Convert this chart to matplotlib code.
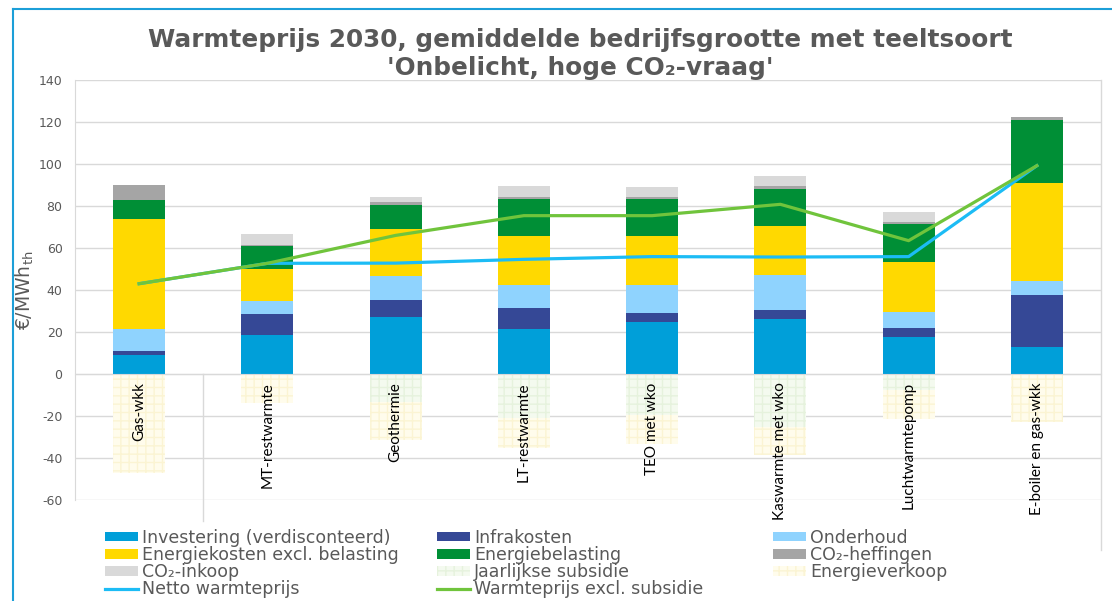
import numpy as np
import matplotlib
matplotlib.use('Agg')
import matplotlib.pyplot as plt
from matplotlib.patches import Patch
from matplotlib.lines import Line2D

plt.rcParams['axes.unicode_minus'] = False

categories = ['Gas-wkk', 'MT-restwarmte', 'Geothermie', 'LT-restwarmte',
              'TEO met wko', 'Kaswarmte met wko', 'Luchtwarmtepomp',
              'E-boiler en gas-wkk']
investering = [9.0, 18.7, 27.1, 21.4, 25.0, 26.3, 17.6, 13.0]
infrakosten = [2.0, 9.7, 8.1, 10.2, 3.9, 4.2, 4.1, 24.8]
onderhoud = [10.3, 6.2, 11.5, 10.8, 13.5, 16.5, 7.8, 6.6]
energiekosten = [52.7, 15.6, 22.2, 23.5, 23.5, 23.5, 24.0, 46.7]
energiebelasting = [8.7, 10.8, 11.7, 17.4, 17.4, 17.8, 17.9, 29.7]
co2_heffingen = [7.3, 0.5, 1.3, 1.1, 1.1, 1.4, 1.0, 1.4]
co2_inkoop = [0.0, 5.2, 2.4, 5.3, 4.6, 4.7, 4.7, 0.0]
subsidie = [0.0, 0.0, -13.2, -20.8, -19.5, -25.1, -7.6, 0.0]
energieverkoop = [-47.0, -14.0, -18.3, -14.3, -13.6, -13.6, -13.6, -23.0]
netto = [43.0, 52.7, 52.8, 54.6, 55.9, 55.7, 55.9, 99.2]
excl_subsidie = [43.0, 52.7, 66.0, 75.4, 75.4, 80.8, 63.5, 99.2]

grey = '#595959'
fig = plt.figure(figsize=(11.12, 6.01), dpi=100)
ax = fig.add_axes([75/1112, 1-500/601, 1026/1112, 420/601])

x = np.arange(len(categories))
w = 0.405
pos_series = [
    (investering, '#009FD9', 'Investering (verdisconteerd)'),
    (infrakosten, '#354896', 'Infrakosten'),
    (onderhoud, '#8FD3FE', 'Onderhoud'),
    (energiekosten, '#FFD900', 'Energiekosten excl. belasting'),
    (energiebelasting, '#008F36', 'Energiebelasting'),
    (co2_heffingen, '#A5A5A5', 'CO\u2082-heffingen'),
    (co2_inkoop, '#D9D9D9', 'CO\u2082-inkoop'),
]
bottom = np.zeros(len(categories))
handles = {}
for vals, col, lab in pos_series:
    ax.bar(x, vals, w, bottom=bottom, color=col, zorder=2)
    bottom += np.array(vals)
    handles[lab] = Patch(facecolor=col)

# negatieve (gestippelde) reeksen
nbottom = np.zeros(len(categories))
for vals, col, hcol, lab in [(subsidie, '#F4FAEF', '#E6F2DD', 'Jaarlijkse subsidie'),
                             (energieverkoop, '#FFFCEC', '#FBF4D3', 'Energieverkoop')]:
    ax.bar(x, vals, w, bottom=nbottom, color=col, edgecolor=hcol, linewidth=0,
           hatch='++', zorder=1)
    nbottom += np.array(vals)
    handles[lab] = Patch(facecolor=col, edgecolor=hcol, linewidth=0, hatch='++')

ax.plot(x, netto, color='#1CBCF5', lw=2.3, zorder=3)
ax.plot(x, excl_subsidie, color='#70C43C', lw=2.3, zorder=4)
handles['Netto warmteprijs'] = Line2D([], [], color='#1CBCF5', lw=2.3)
handles['Warmteprijs excl. subsidie'] = Line2D([], [], color='#70C43C', lw=2.3)

ax.set_xlim(-0.5, 7.5)
ax.set_ylim(-60, 140)
ax.set_yticks(np.arange(-60, 141, 20))
ax.grid(axis='y', color='#D9D9D9', lw=1, zorder=0)
ax.set_axisbelow(True)
for s in ['top', 'right']:
    ax.spines[s].set_visible(False)
ax.spines['left'].set_color('#D9D9D9')
ax.spines['bottom'].set_position(('data', 0))
ax.spines['bottom'].set_color('#D9D9D9')
ax.tick_params(axis='y', length=0, pad=9, labelsize=9, labelcolor=grey)
ax.set_xticks(x)
ax.set_xticklabels(categories, rotation=90, family='Lato', fontsize=11, color='black')
ax.tick_params(axis='x', length=0, pad=6)
ax.xaxis.set_zorder(5)
ax.plot([0.5, 0.5], [0, -70], color='#D9D9D9', lw=1, clip_on=False, zorder=0)

ax.set_ylabel('\u20ac/MWh$_{\\mathregular{th}}$', fontsize=13.5, color=grey, labelpad=2)

fig.text(0.522, 1-40/601, 'Warmteprijs 2030, gemiddelde bedrijfsgrootte met teeltsoort',
         ha='center', va='center', fontsize=17.8, fontweight='bold', color=grey)
fig.text(0.522, 1-68/601, "'Onbelicht, hoge CO\u2082-vraag'",
         ha='center', va='center', fontsize=17.8, fontweight='bold', color=grey)

cols = [
    (105, ['Investering (verdisconteerd)', 'Energiekosten excl. belasting',
           'CO\u2082-inkoop', 'Netto warmteprijs']),
    (437, ['Infrakosten', 'Energiebelasting', 'Jaarlijkse subsidie',
           'Warmteprijs excl. subsidie']),
    (773, ['Onderhoud', 'CO\u2082-heffingen', 'Energieverkoop']),
]
for xpx, labs in cols:
    fig.legend([handles[l] for l in labs], labs, loc='upper left',
               bbox_to_anchor=(xpx/1112, 1-529/601), frameon=False, ncol=1,
               fontsize=12.5, labelcolor=grey, handlelength=1.9, handleheight=0.45,
               handletextpad=0.25, labelspacing=-0.05, borderpad=0, borderaxespad=0)

# kader
fig.add_artist(Line2D([13/1112, 1], [1-9/601, 1-9/601], color='#1C9FD8', lw=1.5))
fig.add_artist(Line2D([13/1112, 13/1112], [0, 1-9/601], color='#1C9FD8', lw=1.5))
fig.add_artist(Line2D([1101/1112, 1101/1112], [1-550/601, 1-80/601], color='#D9D9D9', lw=1))

fig.savefig('out.png', dpi=100)
